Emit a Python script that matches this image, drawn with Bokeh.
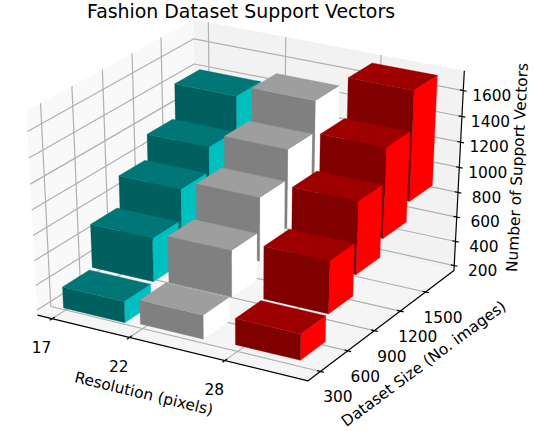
import math
from bokeh.plotting import figure
from bokeh.models import Range1d
from bokeh.core.properties import value
from bokeh.embed import file_html
from bokeh.resources import INLINE

# ---- data ----
resolutions = [17, 22, 28]
dataset_sizes = [300, 600, 900, 1200, 1500]
z_ticks = [200, 400, 600, 800, 1000, 1200, 1400, 1600]
teal_tops = [345, 700, 945, 1140, 1408]
grey_tops = [385, 745, 1015, 1250, 1495]
red_tops = [420, 835, 1148, 1420, 1720]
bar_dx = 4
bar_dy = 270
bar_x_shift = -0.13
title = "Fashion Dataset Support Vectors"
x_label = "Resolution (pixels)"
y_label = "Dataset Size (No. images)"
z_label = "Number of Support Vectors"
palette = [("#00BFBF", "#006060", "#007676"),
           ("#FFFFFF", "#808080", "#9E9E9E"),
           ("#FF0000", "#800000", "#9E0000")]

# ---- 3D view ----
XLIM = (16.03, 33.09)
YLIM = (167.0, 1848.0)
ZLIM = (159.0, 1752.0)
SX, SY, TX, TY = 3125.0, 2330.0, 248.4, 193.5
W, H = 540, 431
el, az = math.radians(30), math.radians(-60)
n = (math.cos(el) * math.cos(az), math.cos(el) * math.sin(az), math.sin(el))
un = math.hypot(n[1], n[0])
u = (-n[1] / un, n[0] / un, 0.0)
v = (n[1] * u[2] - n[2] * u[1], n[2] * u[0] - n[0] * u[2], n[0] * u[1] - n[1] * u[0])
DIST = 10.0


def frac(x, y, z):
    return ((x - XLIM[0]) / (XLIM[1] - XLIM[0]),
            (y - YLIM[0]) / (YLIM[1] - YLIM[0]),
            (z - ZLIM[0]) / (ZLIM[1] - ZLIM[0]))


def proj_f(a, b, c):
    d = (a - .5, b - .5, c - .5)
    w = DIST - sum(i * j for i, j in zip(n, d))
    return sum(i * j for i, j in zip(u, d)) / w, sum(i * j for i, j in zip(v, d)) / w


def proj(x, y, z):
    return proj_f(*frac(x, y, z))


def px(X, Y):
    return (X - TX) / SX, (TY - Y) / SY


def shift(pt, dx, dy):
    return pt[0] + dx / SX, pt[1] - dy / SY


p = figure(width=W, height=H, output_backend="svg", toolbar_location=None,
           x_range=Range1d(-TX / SX, (W - TX) / SX),
           y_range=Range1d((TY - H) / SY, TY / SY),
           x_axis_type=None, y_axis_type=None, min_border=0,
           outline_line_color=None)
p.grid.visible = False


def poly(pts, color):
    q = [proj_f(*t) for t in pts]
    p.patch([i[0] for i in q], [i[1] for i in q], fill_color=color, line_color=None)


# panes
poly([(0, 0, 0), (0, 1, 0), (0, 1, 1), (0, 0, 1)], "#F9F9F9")
poly([(0, 1, 0), (1, 1, 0), (1, 1, 1), (0, 1, 1)], "#F2F2F2")
poly([(0, 0, 0), (1, 0, 0), (1, 1, 0), (0, 1, 0)], "#F5F5F5")

# gridlines
gx, gy = [], []


def add_line(pts, xs, ys):
    q = [proj_f(*t) for t in pts]
    xs.append([i[0] for i in q])
    ys.append([i[1] for i in q])


for r in resolutions:
    a = frac(r, YLIM[0], ZLIM[0])[0]
    add_line([(a, 0, 0), (a, 1, 0), (a, 1, 1)], gx, gy)
for s in dataset_sizes:
    b = frac(XLIM[0], s, ZLIM[0])[1]
    add_line([(1, b, 0), (0, b, 0), (0, b, 1)], gx, gy)
for t in z_ticks:
    c = frac(XLIM[0], YLIM[0], t)[2]
    add_line([(0, 0, c), (0, 1, c), (1, 1, c)], gx, gy)
p.multi_line(gx, gy, line_color="#B0B0B0", line_width=1.2)

# axis lines and ticks
ax, ay = [], []
add_line([(0, 0, 0), (1, 0, 0), (1, 1, 0), (1, 1, 1)], ax, ay)
for r in resolutions:
    a = frac(r, YLIM[0], ZLIM[0])[0]
    add_line([(a, .015, 0), (a, -.015, 0)], ax, ay)
for s in dataset_sizes:
    b = frac(XLIM[0], s, ZLIM[0])[1]
    add_line([(.988, b, 0), (1.012, b, 0)], ax, ay)
for t in z_ticks:
    c = frac(XLIM[0], YLIM[0], t)[2]
    add_line([(.988, 1, c), (1.012, 1, c)], ax, ay)
p.multi_line(ax, ay, line_color="#000000", line_width=1.2)

# bars, painted far to near; each bar rises from half of its value to its value
series = [teal_tops, grey_tops, red_tops]
bx, by, bc = [], [], []
for j in reversed(range(len(dataset_sizes))):
    y0 = dataset_sizes[j]
    y1 = y0 + bar_dy
    for i, r in enumerate(resolutions):
        x0, x1 = r + bar_x_shift, r + bar_x_shift + bar_dx
        top = series[i][j]
        bot = top / 2
        right, front, upper = palette[i]
        faces = [([(x1, y0, bot), (x1, y1, bot), (x1, y1, top), (x1, y0, top)], right),
                 ([(x0, y0, bot), (x1, y0, bot), (x1, y0, top), (x0, y0, top)], front),
                 ([(x0, y0, top), (x1, y0, top), (x1, y1, top), (x0, y1, top)], upper)]
        for pts, col in faces:
            q = [proj(*t) for t in pts]
            bx.append([k[0] for k in q])
            by.append([k[1] for k in q])
            bc.append(col)
p.patches(bx, by, fill_color=bc, line_color=bc, line_width=0.3)

# texts
FONT = value("DejaVu Sans")


def text(xs, ys, labels, size, angle=0.0):
    p.text(xs, ys, text=labels, text_font=FONT, text_font_size=size, text_color="#000000",
           text_align="center", text_baseline="middle", angle=angle)


q = [shift(proj(r, YLIM[0], ZLIM[0]), -10.6, 28.5) for r in resolutions]
text([i[0] for i in q], [i[1] for i in q], [str(r) for r in resolutions], "15.4px")
q = [shift(proj(XLIM[1], s, ZLIM[0]), 17.5, 25) for s in dataset_sizes]
text([i[0] for i in q], [i[1] for i in q], [str(s) for s in dataset_sizes], "15.4px")
q = [shift(proj(XLIM[1], YLIM[1], t), 28.5, 4.3) for t in z_ticks]
text([i[0] for i in q], [i[1] for i in q], [str(t) for t in z_ticks], "15.4px")

for label, (X, Y), deg, size in [(title, (240.5, 10), 0, "18.9px"),
                                 (x_label, (143.3, 393.3), -13.6, "15.4px"),
                                 (y_label, (423.3, 363.3), 36.5, "15.4px"),
                                 (z_label, (517, 167), 87, "15.4px")]:
    pt = px(X, Y)
    text([pt[0]], [pt[1]], [label], size, math.radians(deg))

open("out.html", "w").write(file_html(p, INLINE))
